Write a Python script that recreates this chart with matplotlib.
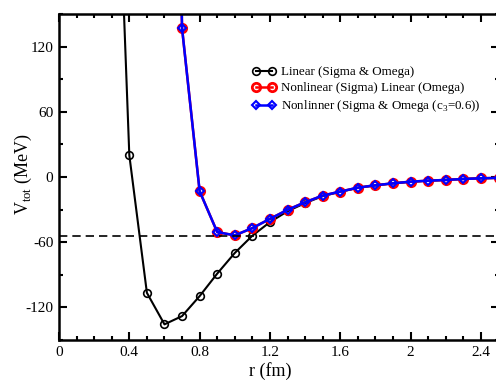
import matplotlib
matplotlib.use("Agg")
import matplotlib.pyplot as plt
from matplotlib.ticker import MultipleLocator

plt.rcParams['font.family'] = ['Liberation Serif', 'DejaVu Serif']
plt.rcParams['mathtext.fontset'] = 'custom'
plt.rcParams['mathtext.rm'] = 'Liberation Serif'
plt.rcParams['axes.unicode_minus'] = False

r_lin = [0.3, 0.4, 0.5, 0.6, 0.7, 0.8, 0.9, 1.0, 1.1, 1.2, 1.3, 1.4, 1.5, 1.6, 1.7, 1.8, 1.9, 2.0, 2.1, 2.2, 2.3, 2.4, 2.5]
v_lin = [450, 20, -106.6, -135.6, -128, -109.6, -88.9, -69.9, -54, -41.5, -31.5, -24, -17.6, -13.6, -10, -7.7, -5.9, -4.4, -3.4, -2.7, -1.8, -1.2, -0.8]

r_nl = [0.6, 0.7, 0.8, 0.9, 1.0, 1.1, 1.2, 1.3, 1.4, 1.5, 1.6, 1.7, 1.8, 1.9, 2.0, 2.1, 2.2, 2.3, 2.4, 2.5]
v_nl = [900, 136.8, -13.1, -50.7, -53.7, -47, -38.5, -30.2, -23.2, -17.1, -13.4, -9.8, -7.6, -5.8, -4.3, -3.4, -2.7, -1.8, -1.2, -0.8]
v_c3 = [900, 136.8, -13.1, -50.7, -53.7, -47, -38.5, -30.2, -23.2, -17.1, -13.4, -9.8, -7.6, -5.8, -4.3, -3.4, -2.7, -1.8, -1.2, -0.8]

dashed_level = -54

labels = ["Linear (Sigma & Omega)",
          "Nonlinear (Sigma) Linear (Omega)",
          "Nonlinner (Sigma & Omega (c$_3$=0.6))"]

fig = plt.figure(figsize=(4.96, 3.81), dpi=100)
W, H = 496, 381
ax = fig.add_axes([59 / W, 1 - 340 / H, 439.5 / W, 326 / H])

ax.plot(r_lin, v_lin, color='black', lw=1.5, marker='o', ms=5.5, mfc='none', mec='black', mew=1.2, label=labels[0])
ax.plot(r_nl, v_nl, color='red', lw=1.8, marker='o', ms=6, mfc='none', mec='red', mew=2.0, label=labels[1])
ax.plot(r_nl, v_c3, color='blue', lw=1.8, marker='D', ms=4, mfc='none', mec='blue', mew=1.5, label=labels[2])
ax.axhline(dashed_level, color='black', lw=1.2, ls=(0, (5, 3)))

ax.set_xlim(0, 2.5)
ax.set_ylim(-150, 150)
ax.xaxis.set_minor_locator(MultipleLocator(0.1))
ax.yaxis.set_major_locator(MultipleLocator(60))
ax.yaxis.set_minor_locator(MultipleLocator(30))
ax.set_xticks([0, 0.4, 0.8, 1.2, 1.6, 2.0, 2.4])
ax.set_xticklabels(['0', '0.4', '0.8', '1.2', '1.6', '2', '2.4'])
ax.tick_params(which='both', direction='in', top=True, right=True, labelsize=11, width=1.5)
ax.tick_params(which='major', length=6, pad=4)
ax.tick_params(which='minor', length=3)
for s in ax.spines.values():
    s.set_linewidth(1.8)

ax.set_xlabel('r (fm)', fontsize=13)
ax.set_ylabel('V$_{\\rm tot}$ (MeV)', fontsize=13)
ax.xaxis.set_label_coords((270 - 59) / 439.5, -(371 - 340) / 326, transform=ax.transAxes)
ax.yaxis.set_label_coords(-(59 - 23) / 439.5, (340 - 174) / 326, transform=ax.transAxes)
ax.xaxis.label.set_va('center')
ax.yaxis.label.set_va('center')

leg = ax.legend(loc='upper left', bbox_to_anchor=((252 - 59) / 439.5, (340 - 66) / 326), frameon=False,
                fontsize=9.4, handlelength=1.8, handletextpad=0.45, labelspacing=0.3, borderaxespad=0,
                borderpad=0, numpoints=2)

fig.savefig('out.png', dpi=100)
